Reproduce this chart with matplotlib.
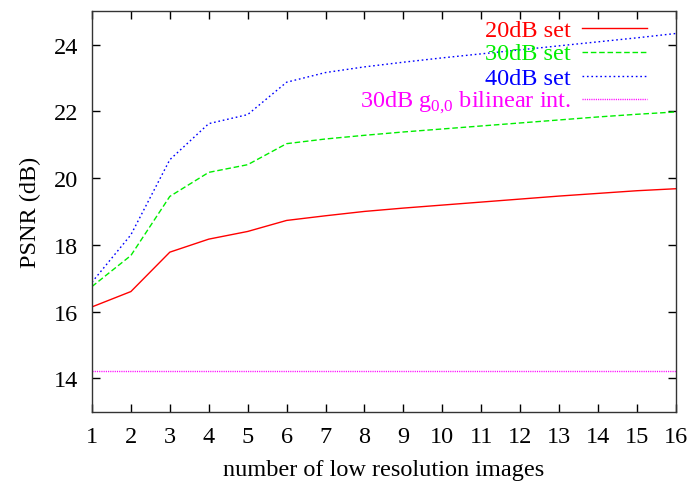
import matplotlib
matplotlib.use("Agg")
import matplotlib.pyplot as plt
from matplotlib.lines import Line2D

plt.rcParams['font.family'] = ['Liberation Serif', 'DejaVu Serif']
plt.rcParams['mathtext.fontset'] = 'custom'
plt.rcParams['mathtext.rm'] = 'Liberation Serif'

# number of low resolution images
n_images = list(range(1, 17))

# PSNR (dB) per training set
psnr_20db = [16.14, 16.60, 17.78, 18.17, 18.40, 18.73, 18.87, 19.00, 19.10, 19.19,
             19.28, 19.37, 19.46, 19.54, 19.62, 19.68]
psnr_30db = [16.75, 17.68, 19.45, 20.17, 20.40, 21.03, 21.17, 21.28, 21.38, 21.47,
             21.56, 21.65, 21.74, 21.83, 21.91, 21.98]
psnr_40db = [16.88, 18.30, 20.55, 21.63, 21.90, 22.87, 23.16, 23.33, 23.47, 23.60,
             23.72, 23.84, 23.96, 24.08, 24.20, 24.33]
bilinear_30db = 14.23

labels = ["20dB set", "30dB set", "40dB set", r"30dB g$_{\mathrm{0{,}0}}$ bilinear int."]
colors = ["#ff0000", "#00ee00", "#0000ff", "#ff00ff"]
styles = ["-", (0, (4, 2)), (0, (1.2, 2.0)), (0, (0.8, 0.8))]

fig = plt.figure(figsize=(6.91, 4.85), dpi=100)
ax = fig.add_axes([0.1331, 0.149, 0.8449, 0.826])

series = [psnr_20db, psnr_30db, psnr_40db, [bilinear_30db] * len(n_images)]
for vals, c, ls in zip(series, colors, styles):
    ax.plot(n_images, vals, color=c, linestyle=ls, linewidth=1.0)

ax.set_xlim(1, 16)
ax.set_ylim(13, 25)
ax.set_xticks(n_images)
ax.set_yticks([14, 16, 18, 20, 22, 24])
ax.tick_params(direction='in', length=6, width=1, top=True, right=True,
               labelsize=17.5, pad=10)
for s in ax.spines.values():
    s.set_linewidth(1.0)
    s.set_color('#333333')

ax.set_xlabel("number of low resolution images", fontsize=17.5, labelpad=9)
ax.set_ylabel("PSNR (dB)", fontsize=17.5, labelpad=9)

# gnuplot-style key: right-aligned text followed by a line sample
row_y = [0.957, 0.899, 0.838, 0.780]
for lab, c, ls, y in zip(labels, colors, styles, row_y):
    ax.text(0.82, y - 0.019, lab, transform=ax.transAxes, ha='right',
            va='baseline', color=c, fontsize=17.5)
    ax.add_line(Line2D([0.84, 0.95], [y, y], transform=ax.transAxes,
                       color=c, linestyle=ls, linewidth=1.0))

fig.savefig("out.png", dpi=100)
